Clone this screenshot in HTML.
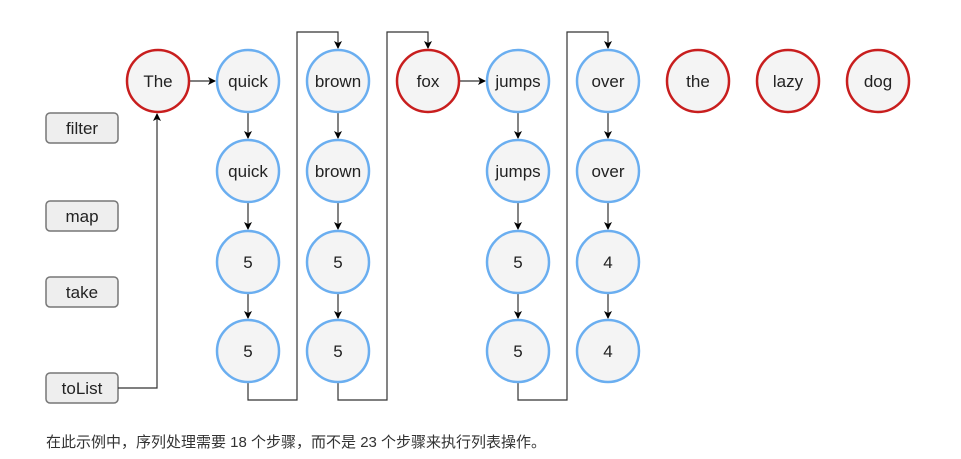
<!DOCTYPE html>
<html><head><meta charset="utf-8"><style>
body{margin:0;background:#fff;width:961px;height:459px;overflow:hidden}
</style></head><body>
<svg width="961" height="459" xmlns="http://www.w3.org/2000/svg" style="position:absolute;left:0;top:0">
<defs><marker id="a" markerWidth="8" markerHeight="8" refX="7" refY="4" orient="auto" markerUnits="userSpaceOnUse"><path d="M0,0 L8,4 L0,8 L2,4 Z" fill="#000"/></marker></defs>
<g font-family="Liberation Sans, sans-serif" font-size="17" fill="#222" text-anchor="middle">
<g stroke="#777" fill="#eeeeee" stroke-width="1.5">
<rect x="46" y="113" width="72" height="30" rx="4"/>
<rect x="46" y="201" width="72" height="30" rx="4"/>
<rect x="46" y="277" width="72" height="30" rx="4"/>
<rect x="46" y="373" width="72" height="30" rx="4"/>
</g>
<text x="82" y="134">filter</text><text x="82" y="222">map</text><text x="82" y="298">take</text><text x="82" y="394">toList</text>
<g stroke="#333" stroke-width="1.2" fill="none">
<path d="M118,388 H157 V114" marker-end="url(#a)"/>
<path d="M190,81 H215" marker-end="url(#a)"/>
<path d="M460,81 H485" marker-end="url(#a)"/>
<path d="M248,382 V400 H297 V32 H338 V48" marker-end="url(#a)"/>
<path d="M338,382 V400 H387 V32 H428 V48" marker-end="url(#a)"/>
<path d="M518,382 V400 H567 V32 H608 V48" marker-end="url(#a)"/>
<path d="M248,112 V138" marker-end="url(#a)"/><path d="M248,202 V229" marker-end="url(#a)"/><path d="M248,293 V318" marker-end="url(#a)"/>
<path d="M338,112 V138" marker-end="url(#a)"/><path d="M338,202 V229" marker-end="url(#a)"/><path d="M338,293 V318" marker-end="url(#a)"/>
<path d="M518,112 V138" marker-end="url(#a)"/><path d="M518,202 V229" marker-end="url(#a)"/><path d="M518,293 V318" marker-end="url(#a)"/>
<path d="M608,112 V138" marker-end="url(#a)"/><path d="M608,202 V229" marker-end="url(#a)"/><path d="M608,293 V318" marker-end="url(#a)"/>
</g>
<g stroke-width="2.5" fill="#f4f4f4">
<circle cx="158" cy="81" r="31" stroke="#c81e1e"/>
<circle cx="428" cy="81" r="31" stroke="#c81e1e"/>
<circle cx="698" cy="81" r="31" stroke="#c81e1e"/>
<circle cx="788" cy="81" r="31" stroke="#c81e1e"/>
<circle cx="878" cy="81" r="31" stroke="#c81e1e"/>
<g stroke="#6aaef0">
<circle cx="248" cy="81" r="31"/><circle cx="248" cy="171" r="31"/><circle cx="248" cy="262" r="31"/><circle cx="248" cy="351" r="31"/>
<circle cx="338" cy="81" r="31"/><circle cx="338" cy="171" r="31"/><circle cx="338" cy="262" r="31"/><circle cx="338" cy="351" r="31"/>
<circle cx="518" cy="81" r="31"/><circle cx="518" cy="171" r="31"/><circle cx="518" cy="262" r="31"/><circle cx="518" cy="351" r="31"/>
<circle cx="608" cy="81" r="31"/><circle cx="608" cy="171" r="31"/><circle cx="608" cy="262" r="31"/><circle cx="608" cy="351" r="31"/>
</g></g>
<text x="158" y="87">The</text><text x="248" y="87">quick</text><text x="338" y="87">brown</text><text x="428" y="87">fox</text><text x="518" y="87">jumps</text><text x="608" y="87">over</text><text x="698" y="87">the</text><text x="788" y="87">lazy</text><text x="878" y="87">dog</text>
<text x="248" y="177">quick</text><text x="338" y="177">brown</text><text x="518" y="177">jumps</text><text x="608" y="177">over</text>
<text x="248" y="268">5</text><text x="338" y="268">5</text><text x="518" y="268">5</text><text x="608" y="268">4</text>
<text x="248" y="357">5</text><text x="338" y="357">5</text><text x="518" y="357">5</text><text x="608" y="357">4</text>
</g>
<text x="46" y="447" font-family="Liberation Sans, Noto Sans CJK SC, sans-serif" font-size="15" fill="#333">在此示例中，序列处理需要 18 个步骤，而不是 23 个步骤来执行列表操作。</text>
</svg>
</body></html>
